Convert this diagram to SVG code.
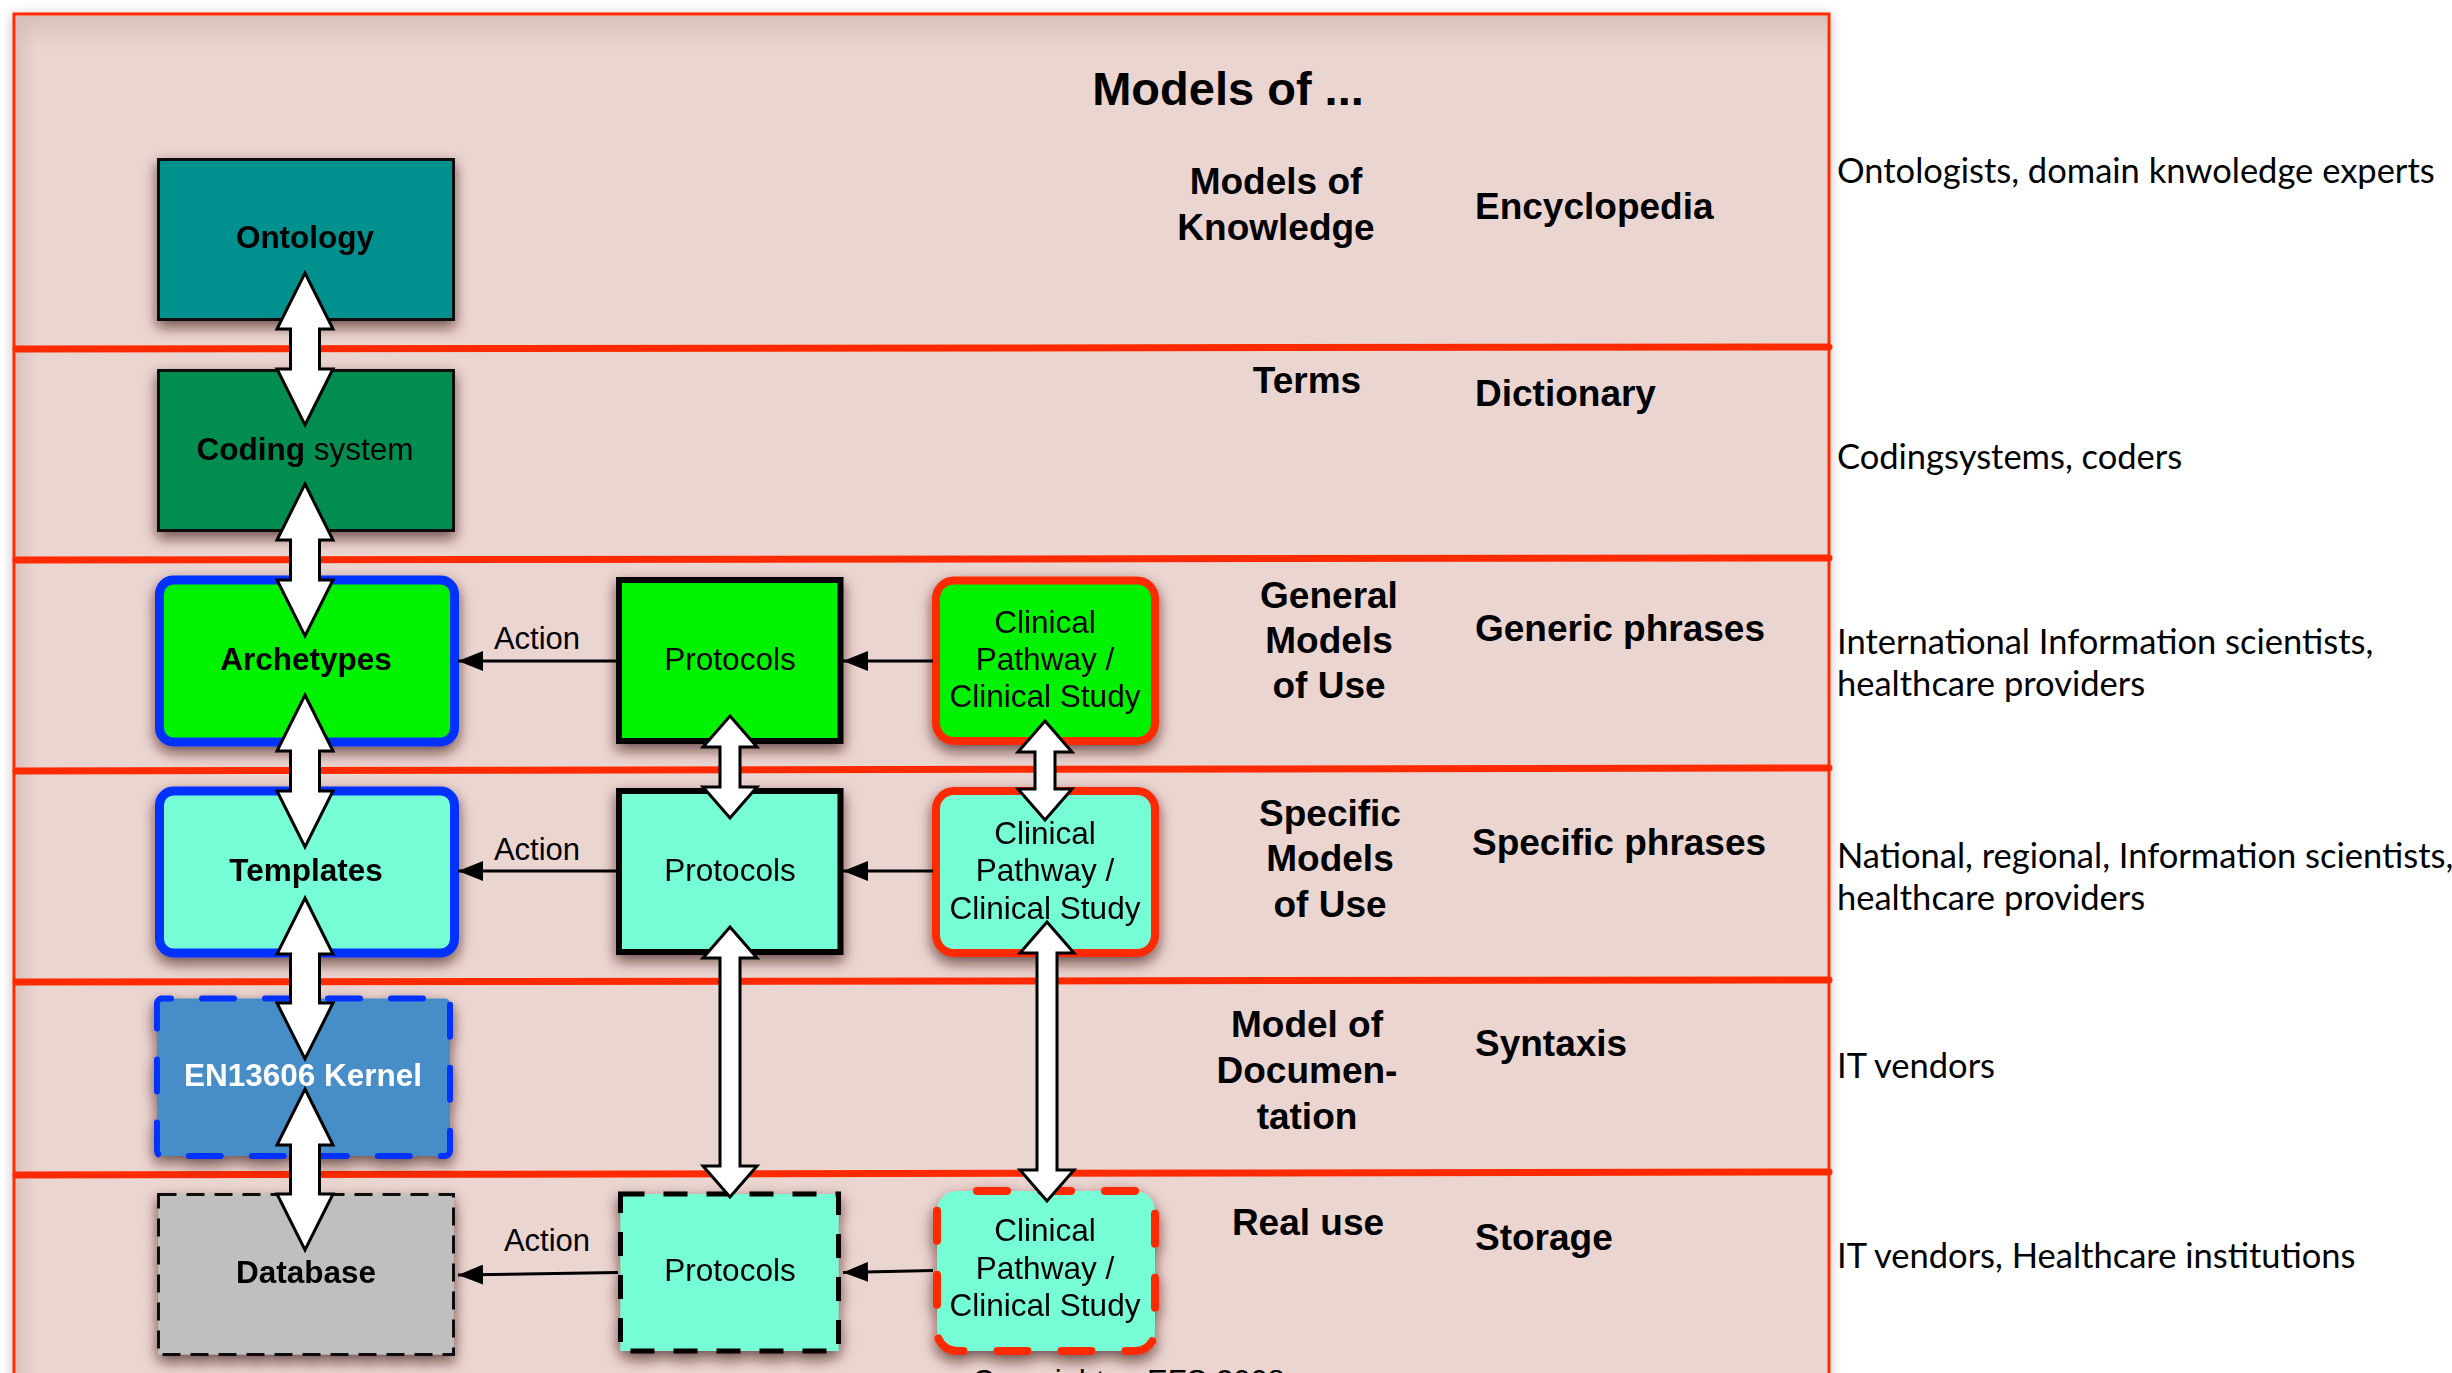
<svg xmlns="http://www.w3.org/2000/svg" width="2452" height="1373" viewBox="0 0 2452 1373">
<defs>
<style>
.b{font-family:"Liberation Sans",Arial,Helvetica,sans-serif;font-weight:bold;fill:#000}
.r{font-family:"Liberation Sans",Arial,Helvetica,sans-serif;font-weight:normal;fill:#000}
.g{font-family:Lato,"Open Sans","Noto Sans",sans-serif;font-size:34.5px;fill:#000}
.lbl{font-size:37px;text-anchor:middle}
.col{font-size:37px}
.bx{font-size:31.5px;text-anchor:middle}
.cl{font-size:31.5px;text-anchor:middle}
.red{stroke:#FF2A00;stroke-width:7;stroke-linecap:round;fill:none}
.arw{fill:#fff;stroke:#000;stroke-width:3;stroke-linejoin:miter}
.act{stroke:#000;stroke-width:3;fill:none}
</style>
<filter id="sh" x="-20%" y="-20%" width="140%" height="150%">
<feGaussianBlur in="SourceAlpha" stdDeviation="7"/>
<feOffset dx="0" dy="6" result="o"/>
<feFlood flood-color="#3a1410" flood-opacity="0.7"/>
<feComposite in2="o" operator="in"/>
<feMerge><feMergeNode/><feMergeNode in="SourceGraphic"/></feMerge>
</filter>
<filter id="fsh" x="-5%" y="-5%" width="110%" height="110%">
<feGaussianBlur in="SourceAlpha" stdDeviation="6"/>
<feOffset dx="0" dy="2" result="o"/>
<feFlood flood-color="#000" flood-opacity="0.25"/>
<feComposite in2="o" operator="in"/>
<feMerge><feMergeNode/><feMergeNode in="SourceGraphic"/></feMerge>
</filter>
<linearGradient id="topband" x1="0" y1="0" x2="0" y2="1">
<stop offset="0" stop-color="#D8BDB7" stop-opacity="0.9"/>
<stop offset="1" stop-color="#D8BDB7" stop-opacity="0"/>
</linearGradient>
<linearGradient id="leftband" x1="0" y1="0" x2="1" y2="0">
<stop offset="0" stop-color="#D8BDB7" stop-opacity="0.8"/>
<stop offset="1" stop-color="#D8BDB7" stop-opacity="0"/>
</linearGradient>
<marker id="ah" viewBox="0 0 25 20" refX="25" refY="10" markerWidth="25" markerHeight="20" markerUnits="userSpaceOnUse" orient="auto">
<path d="M0,0 L25,10 L0,20 Z" fill="#000"/>
</marker>
</defs>
<rect x="0" y="0" width="2452" height="1373" fill="#fff"/>
<g id="frame">
<rect x="14" y="14" width="1815" height="1400" fill="#EBD5D1" stroke="#FF2A00" stroke-width="3" filter="url(#fsh)"/>
<rect x="16" y="16" width="1811" height="34" fill="url(#topband)"/>
<rect x="16" y="16" width="20" height="1360" fill="url(#leftband)"/>
</g>
<g id="lanes">
<line class="red" x1="16" y1="349" x2="1829" y2="347"/>
<line class="red" x1="16" y1="560" x2="1829" y2="558"/>
<line class="red" x1="16" y1="771" x2="1829" y2="768"/>
<line class="red" x1="16" y1="982" x2="1829" y2="980"/>
<line class="red" x1="16" y1="1175" x2="1829" y2="1172"/>
</g>
<g id="ontology" filter="url(#sh)">
<rect x="158.5" y="159.5" width="295" height="160" fill="#00918F" stroke="#111" stroke-width="3"/>
<text class="b bx" x="305" y="248">Ontology</text>
</g>
<g id="coding-system" filter="url(#sh)">
<rect x="158.5" y="370.5" width="295" height="160" fill="#008D50" stroke="#111" stroke-width="3"/>
<text class="r bx" x="305" y="460"><tspan font-weight="bold">Coding</tspan> system</text>
</g>
<g id="archetypes" filter="url(#sh)">
<rect x="159.5" y="580" width="295" height="162" rx="14" fill="#00F200" stroke="#0033FF" stroke-width="9"/>
<text class="b bx" x="306" y="670">Archetypes</text>
</g>
<g id="protocols-general" filter="url(#sh)">
<rect x="619" y="580" width="221.5" height="161" fill="#00F200" stroke="#000" stroke-width="6"/>
<text class="r bx" x="730" y="670">Protocols</text>
</g>
<g id="clinical-general" filter="url(#sh)">
<rect x="936" y="580.5" width="219" height="160.5" rx="18" fill="#00F200" stroke="#FF2A00" stroke-width="8"/>
<text class="r cl" x="1045" y="633">Clinical</text>
<text class="r cl" x="1045" y="670">Pathway /</text>
<text class="r cl" x="1045" y="707">Clinical Study</text>
</g>
<g id="templates" filter="url(#sh)">
<rect x="159.5" y="791" width="295" height="162" rx="14" fill="#76FDD6" stroke="#0033FF" stroke-width="9"/>
<text class="b bx" x="306" y="881">Templates</text>
</g>
<g id="protocols-specific" filter="url(#sh)">
<rect x="619" y="791" width="221.5" height="161" fill="#76FDD6" stroke="#000" stroke-width="6"/>
<text class="r bx" x="730" y="881">Protocols</text>
</g>
<g id="clinical-specific" filter="url(#sh)">
<rect x="936" y="791" width="219" height="162" rx="18" fill="#76FDD6" stroke="#FF2A00" stroke-width="8"/>
<text class="r cl" x="1045" y="844">Clinical</text>
<text class="r cl" x="1045" y="881">Pathway /</text>
<text class="r cl" x="1045" y="919">Clinical Study</text>
</g>
<g id="en13606-kernel" filter="url(#sh)">
<rect x="157" y="998.5" width="293" height="157.5" rx="5" fill="#468DC8" stroke="#0033FF" stroke-width="6" stroke-dasharray="32 31" stroke-linecap="round" stroke-dashoffset="-40"/>
<text class="b bx" x="303" y="1086" style="fill:#fff">EN13606 Kernel</text>
</g>
<g id="database" filter="url(#sh)">
<rect x="158.5" y="1194.5" width="295" height="160" fill="#BFBFBF" stroke="#111" stroke-width="3" stroke-dasharray="18 10"/>
<text class="b bx" x="306" y="1283">Database</text>
</g>
<g id="protocols-real" filter="url(#sh)">
<rect x="620.5" y="1194" width="218" height="157" fill="#76FDD6" stroke="#000" stroke-width="5" stroke-dasharray="24 19"/>
<text class="r bx" x="730" y="1281">Protocols</text>
</g>
<g id="clinical-real" filter="url(#sh)">
<rect x="937" y="1191" width="218" height="160" rx="20" fill="#76FDD6" stroke="#FF2A00" stroke-width="8" stroke-dasharray="30 34" stroke-linecap="round" stroke-dashoffset="-20"/>
<text class="r cl" x="1045" y="1241">Clinical</text>
<text class="r cl" x="1045" y="1279">Pathway /</text>
<text class="r cl" x="1045" y="1316">Clinical Study</text>
</g>
<g id="connectors">
<polygon class="arw" points="305,273 333,329 319.5,329 319.5,369 333,369 305,425 277,369 290.5,369 290.5,329 277,329"/>
<polygon class="arw" points="305,484 333,540 319.5,540 319.5,580 333,580 305,636 277,580 290.5,580 290.5,540 277,540"/>
<polygon class="arw" points="305,695 333,751 319.5,751 319.5,791 333,791 305,847 277,791 290.5,791 290.5,751 277,751"/>
<polygon class="arw" points="305,898 333,954 319.5,954 319.5,1003 333,1003 305,1059 277,1003 290.5,1003 290.5,954 277,954"/>
<polygon class="arw" points="305,1089 333,1145 319.5,1145 319.5,1194 333,1194 305,1250 277,1194 290.5,1194 290.5,1145 277,1145"/>
<polygon class="arw" points="730,716 757,747 740,747 740,787 757,787 730,818 703,787 720,787 720,747 703,747"/>
<polygon class="arw" points="730,927 757,958 740,958 740,1166 757,1166 730,1197 703,1166 720,1166 720,958 703,958"/>
<polygon class="arw" points="1045,721 1072,752 1055,752 1055,789 1072,789 1045,820 1018,789 1035,789 1035,752 1018,752"/>
<polygon class="arw" points="1047,922 1074,953 1057,953 1057,1170 1074,1170 1047,1201 1020,1170 1037,1170 1037,953 1020,953"/>
<line class="act" x1="618" y1="661" x2="458" y2="661" marker-end="url(#ah)"/>
<line class="act" x1="933" y1="661" x2="843" y2="661" marker-end="url(#ah)"/>
<line class="act" x1="618" y1="871" x2="458" y2="871" marker-end="url(#ah)"/>
<line class="act" x1="933" y1="871" x2="843" y2="871" marker-end="url(#ah)"/>
<line class="act" x1="618" y1="1272.5" x2="458" y2="1275" marker-end="url(#ah)"/>
<line class="act" x1="933" y1="1270.5" x2="843" y2="1272.5" marker-end="url(#ah)"/>
<text class="r" font-size="31" text-anchor="middle" x="537" y="649">Action</text>
<text class="r" font-size="31" text-anchor="middle" x="537" y="860">Action</text>
<text class="r" font-size="31" text-anchor="middle" x="547" y="1251">Action</text>
</g>
<g id="labels">
<text class="b" font-size="47" text-anchor="middle" x="1228" y="105">Models of ...</text>
<text class="b lbl" x="1276" y="194">Models of</text>
<text class="b lbl" x="1276" y="240">Knowledge</text>
<text class="b col" x="1475" y="219">Encyclopedia</text>
<text class="b lbl" x="1307" y="393">Terms</text>
<text class="b col" x="1475" y="406">Dictionary</text>
<text class="b lbl" x="1329" y="608">General</text>
<text class="b lbl" x="1329" y="653">Models</text>
<text class="b lbl" x="1329" y="698">of Use</text>
<text class="b col" x="1475" y="641">Generic phrases</text>
<text class="b lbl" x="1330" y="826">Specific</text>
<text class="b lbl" x="1330" y="871">Models</text>
<text class="b lbl" x="1330" y="917">of Use</text>
<text class="b col" x="1472" y="855">Specific phrases</text>
<text class="b lbl" x="1307" y="1037">Model of</text>
<text class="b lbl" x="1307" y="1083">Documen-</text>
<text class="b lbl" x="1307" y="1129">tation</text>
<text class="b col" x="1475" y="1056">Syntaxis</text>
<text class="b lbl" x="1308" y="1235">Real use</text>
<text class="b col" x="1475" y="1250">Storage</text>
<text class="r" font-size="31" y="1392"><tspan x="972">Copyright</tspan><tspan x="1147">EFS 2008</tspan></text>
</g>
<g id="roles">
<text class="g" x="1837" y="183">Ontologists, domain knwoledge experts</text>
<text class="g" x="1837" y="469">Codingsystems, coders</text>
<text class="g" x="1837" y="654">International Information scientists,</text>
<text class="g" x="1837" y="696">healthcare providers</text>
<text class="g" x="1837" y="868">National, regional, Information scientists,</text>
<text class="g" x="1837" y="910">healthcare providers</text>
<text class="g" x="1837" y="1078">IT vendors</text>
<text class="g" x="1837" y="1268">IT vendors, Healthcare institutions</text>
</g>
</svg>
